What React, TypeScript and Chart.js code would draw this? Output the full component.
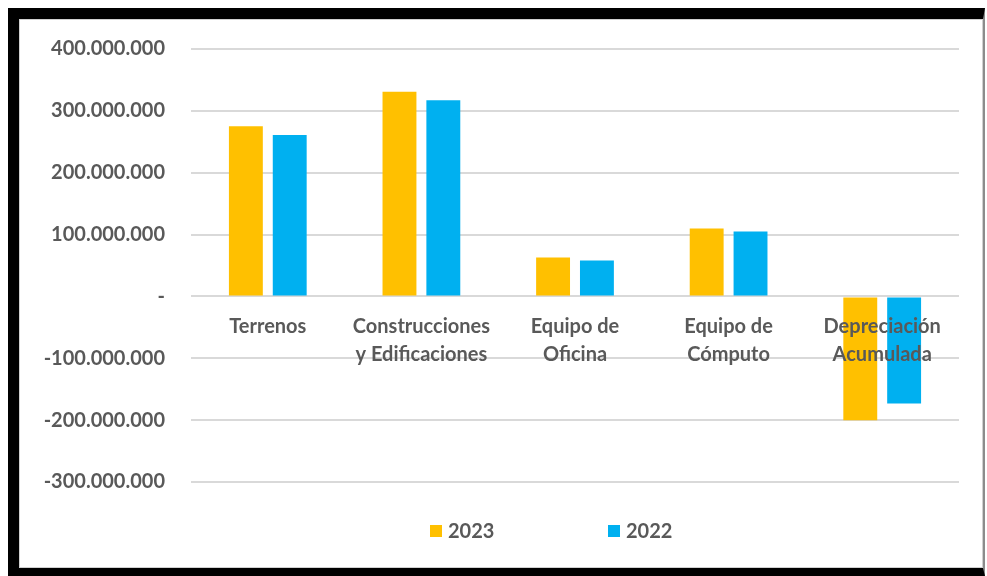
import React, { useEffect, useRef } from "react";
import { Chart, registerables } from "chart.js";

Chart.register(...registerables);

const categories: string[][] = [
  ["Terrenos"],
  ["Construcciones", "y Edificaciones"],
  ["Equipo de", "Oficina"],
  ["Equipo de", "Cómputo"],
  ["Depreciación", "Acumulada"],
];
const seriesNames = ["2023", "2022"];
const values2023 = [275000000, 331000000, 63000000, 110000000, -200000000];
const values2022 = [261000000, 317000000, 58000000, 105000000, -173000000];
const yMin = -300000000;
const yMax = 400000000;
const yStep = 100000000;

const COLORS = ["#FFC000", "#00B0F0"];
const TEXT = "#595959";
const FONT_FAMILY = "Lato, 'Open Sans', sans-serif";

const fmt = (v: number): string => {
  if (v === 0) return "-";
  const s = Math.abs(Math.round(v))
    .toString()
    .replace(/\B(?=(\d{3})+(?!\d))/g, ".");
  return (v < 0 ? "-" : "") + s;
};

const legendPlugin = {
  id: "bottomLegend",
  afterDraw(chart: any) {
    const { ctx, chartArea } = chart;
    const y = chartArea.bottom + 49;
    const xs = [chartArea.left + 239, chartArea.left + 417];
    ctx.save();
    ctx.font = `bold 20px ${FONT_FAMILY}`;
    ctx.textBaseline = "middle";
    ctx.textAlign = "left";
    chart.data.datasets.forEach((ds: any, i: number) => {
      ctx.fillStyle = ds.backgroundColor;
      ctx.fillRect(xs[i], y - 6, 12, 12);
      ctx.fillStyle = TEXT;
      ctx.fillText(ds.label, xs[i] + 18, y + 1);
    });
    ctx.restore();
  },
};

export default function App() {
  const canvasRef = useRef<HTMLCanvasElement | null>(null);

  useEffect(() => {
    if (!canvasRef.current) return;
    const chart = new Chart(canvasRef.current, {
      type: "bar",
      data: {
        labels: categories,
        datasets: [
          {
            label: seriesNames[0],
            data: values2023,
            backgroundColor: COLORS[0],
            categoryPercentage: 0.571,
            barPercentage: 0.773,
          },
          {
            label: seriesNames[1],
            data: values2022,
            backgroundColor: COLORS[1],
            categoryPercentage: 0.571,
            barPercentage: 0.773,
          },
        ],
      },
      options: {
        responsive: false,
        animation: false,
        layout: { padding: { top: 29, right: 23, bottom: 85, left: 0 } },
        plugins: {
          legend: { display: false },
          tooltip: { enabled: false },
        },
        scales: {
          x: {
            type: "category",
            position: { y: 0 } as any,
            afterFit: (scale: any) => {
              scale.height = 0;
            },
            grid: { display: false, drawTicks: false },
            border: { display: false },
            ticks: {
              z: 1,
              color: TEXT,
              font: { family: FONT_FAMILY, size: 20, weight: "bold", lineHeight: 1.4 },
              padding: 16,
              autoSkip: false,
              maxRotation: 0,
              minRotation: 0,
            },
          },
          y: {
            min: yMin,
            max: yMax,
            afterFit: (scale: any) => {
              scale.width = 171;
              scale.paddingTop = 12;
              scale.paddingBottom = 12;
            },
            grid: { color: "#D9D9D9", lineWidth: 2, drawTicks: false },
            border: { display: false },
            ticks: {
              stepSize: yStep,
              color: TEXT,
              padding: 26,
              font: { family: FONT_FAMILY, size: 20, weight: "bold" },
              callback: (v: any) => fmt(Number(v)),
            },
          },
        },
      },
      plugins: [legendPlugin],
    });
    return () => chart.destroy();
  }, []);

  return (
    <div
      style={{
        position: "absolute",
        left: 8,
        top: 8,
        width: 977,
        height: 568,
        boxSizing: "border-box",
        borderLeft: "11px solid #000",
        borderTop: "11px solid #000",
        borderBottom: "8px solid #000",
        borderRight: "2px solid #8c8c8c",
        background: "#fff",
      }}
    >
      <div
        style={{
          width: "100%",
          height: "100%",
          boxSizing: "border-box",
          border: "1px solid #d0d0d0",
        }}
      >
        <canvas ref={canvasRef} width={962} height={547} style={{ display: "block" }} />
      </div>
    </div>
  );
}
